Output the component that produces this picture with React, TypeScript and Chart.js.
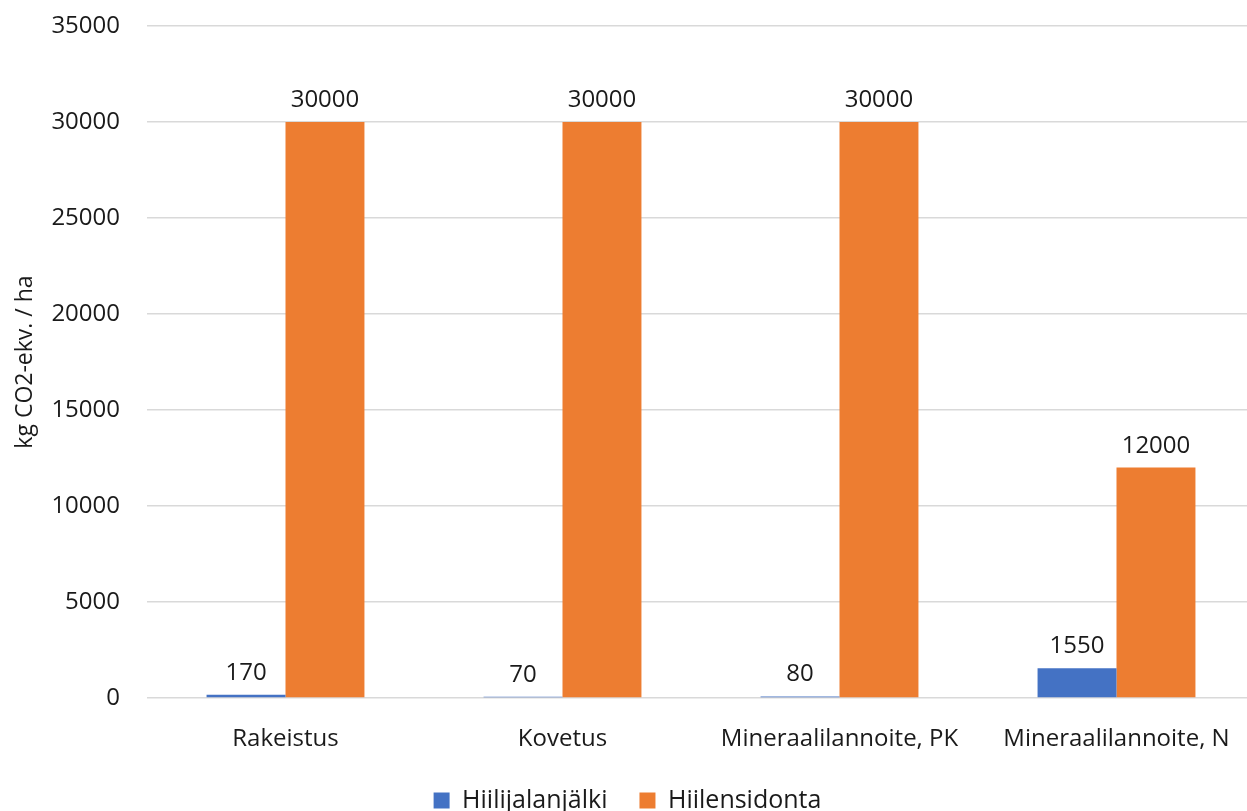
import React, { useEffect, useRef } from "react";
import { Chart, registerables } from "chart.js";

Chart.register(...registerables);

const categories = ["Rakeistus", "Kovetus", "Mineraalilannoite, PK", "Mineraalilannoite, N"];
const seriesNames = ["Hiilijalanjälki", "Hiilensidonta"];
const footprint = [170, 70, 80, 1550];
const sequestration = [30000, 30000, 30000, 12000];
const yTicks = [0, 5000, 10000, 15000, 20000, 25000, 30000, 35000];
const yTitle = "kg CO2-ekv. / ha";

const FONT = "'Open Sans', 'Noto Sans', sans-serif";

const valueLabels = {
  id: "valueLabels",
  afterDatasetsDraw(chart: any) {
    const ctx = chart.ctx;
    ctx.save();
    ctx.font = `24px ${FONT}`;
    ctx.fillStyle = "#1a1a1a";
    ctx.textAlign = "center";
    ctx.textBaseline = "alphabetic";
    chart.data.datasets.forEach((ds: any, i: number) => {
      const meta = chart.getDatasetMeta(i);
      meta.data.forEach((el: any, j: number) => {
        ctx.fillText(String(ds.data[j]), el.x, el.y - 15);
      });
    });
    ctx.restore();
  },
};

export default function App() {
  const ref = useRef<HTMLCanvasElement | null>(null);
  useEffect(() => {
    if (!ref.current) return;
    const chart = new Chart(ref.current, {
      type: "bar",
      data: {
        labels: categories,
        datasets: [
          { label: seriesNames[0], data: footprint, backgroundColor: "#4472C4" },
          { label: seriesNames[1], data: sequestration, backgroundColor: "#ED7D31" },
        ],
      },
      options: {
        animation: false,
        responsive: true,
        maintainAspectRatio: false,
        layout: { padding: { top: 26, right: 0, bottom: 0, left: 0 } },
        datasets: { bar: { categoryPercentage: 0.57, barPercentage: 1 } },
        scales: {
          x: {
            grid: { display: false },
            border: { display: false },
            ticks: { font: { family: FONT, size: 24 }, color: "#1a1a1a", padding: 19, maxRotation: 0 },
            afterFit: (s: any) => { s.height = 58; },
          },
          y: {
            min: 0,
            max: 35000,
            afterBuildTicks: (s: any) => { s.ticks = yTicks.map((v) => ({ value: v })); },
            grid: { color: "#D9D9D9", lineWidth: 1.5, drawTicks: false },
            border: { display: false },
            ticks: {
              font: { family: FONT, size: 24 },
              color: "#1a1a1a",
              padding: 27,
              callback: (v: any) => String(v),
            },
            title: {
              display: true,
              text: yTitle,
              font: { family: FONT, size: 23 },
              color: "#1a1a1a",
              padding: { top: 12, bottom: 0 },
            },
            afterFit: (s: any) => {
              s.width = 147;
              s.paddingTop = 0;
              s.paddingBottom = 0;
            },
          },
        },
        plugins: {
          legend: {
            position: "bottom",
            labels: {
              font: { family: FONT, size: 25 },
              color: "#1a1a1a",
              boxWidth: 16,
              boxHeight: 16,
              padding: 32,
            },
          },
          tooltip: { enabled: false },
        },
      },
      plugins: [valueLabels],
    });
    return () => chart.destroy();
  }, []);
  return (
    <div style={{ position: "fixed", left: 0, top: 0, width: 1255, height: 823, background: "#fff" }}>
      <canvas ref={ref} />
    </div>
  );
}
